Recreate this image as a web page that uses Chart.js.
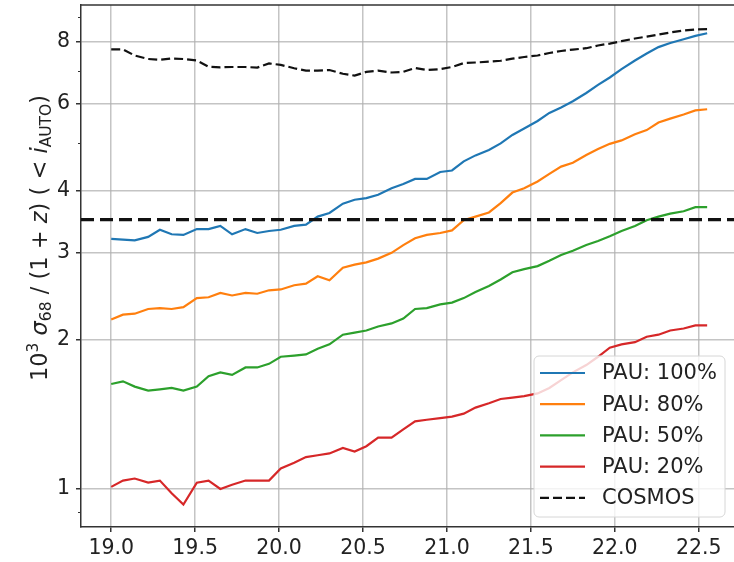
<!DOCTYPE html>
<html lang="en">
<head>
  <meta charset="UTF-8" />
  <title>Photo-z scatter vs magnitude</title>
  <script src="https://cdn.jsdelivr.net/npm/chart.js"></script>
  <style>
    body { margin: 0; background: #fff; }
    #wrap { width: 734px; height: 562px; }
  </style>
</head>
<body>
  <div id="wrap"><canvas id="sigmaChart" width="734" height="562"></canvas></div>

  <script>
    // magnitude bins (i_AUTO limit)
    const magBins = [19.00, 19.07, 19.14, 19.22, 19.29, 19.36, 19.43, 19.51, 19.58, 19.65,
                     19.72, 19.80, 19.87, 19.94, 20.01, 20.09, 20.16, 20.23, 20.30, 20.38,
                     20.45, 20.52, 20.59, 20.67, 20.74, 20.81, 20.88, 20.96, 21.03, 21.10,
                     21.17, 21.25, 21.32, 21.39, 21.46, 21.54, 21.61, 21.68, 21.75, 21.83,
                     21.90, 21.97, 22.04, 22.12, 22.19, 22.26, 22.33, 22.41, 22.48, 22.55];

    const pau100 = [3.20, 3.19, 3.18, 3.23, 3.34, 3.27, 3.26, 3.35, 3.35, 3.40,
                    3.27, 3.35, 3.29, 3.32, 3.34, 3.40, 3.42, 3.55, 3.61, 3.77,
                    3.84, 3.87, 3.93, 4.05, 4.13, 4.23, 4.23, 4.37, 4.40, 4.59,
                    4.72, 4.84, 4.99, 5.19, 5.35, 5.54, 5.75, 5.90, 6.07, 6.31,
                    6.55, 6.78, 7.05, 7.34, 7.58, 7.81, 7.96, 8.10, 8.23, 8.33];

    const pau80 = [2.20, 2.25, 2.26, 2.31, 2.32, 2.31, 2.33, 2.43, 2.44, 2.49,
                   2.46, 2.49, 2.48, 2.52, 2.53, 2.58, 2.60, 2.69, 2.64, 2.80,
                   2.84, 2.87, 2.92, 3.00, 3.11, 3.21, 3.26, 3.29, 3.33, 3.49,
                   3.55, 3.62, 3.78, 3.97, 4.05, 4.18, 4.33, 4.48, 4.56, 4.73,
                   4.86, 4.98, 5.06, 5.21, 5.31, 5.50, 5.60, 5.71, 5.82, 5.85];

    const pau50 = [1.63, 1.65, 1.61, 1.58, 1.59, 1.60, 1.58, 1.61, 1.69, 1.72,
                   1.70, 1.76, 1.76, 1.79, 1.85, 1.86, 1.87, 1.92, 1.96, 2.05,
                   2.07, 2.09, 2.13, 2.16, 2.21, 2.31, 2.32, 2.36, 2.38, 2.43,
                   2.50, 2.57, 2.65, 2.74, 2.78, 2.82, 2.89, 2.97, 3.03, 3.11,
                   3.17, 3.24, 3.32, 3.40, 3.49, 3.55, 3.60, 3.64, 3.71, 3.71];

    const pau20 = [1.01, 1.04, 1.05, 1.03, 1.04, 0.98, 0.93, 1.03, 1.04, 1.00,
                   1.02, 1.04, 1.04, 1.04, 1.10, 1.13, 1.16, 1.17, 1.18, 1.21,
                   1.19, 1.22, 1.27, 1.27, 1.32, 1.37, 1.38, 1.39, 1.40, 1.42,
                   1.46, 1.49, 1.52, 1.53, 1.54, 1.56, 1.60, 1.66, 1.72, 1.78,
                   1.85, 1.93, 1.96, 1.98, 2.03, 2.05, 2.09, 2.11, 2.14, 2.14];

    const cosmos = [7.73, 7.73, 7.51, 7.39, 7.36, 7.41, 7.39, 7.34, 7.13, 7.11,
                    7.12, 7.12, 7.10, 7.24, 7.19, 7.08, 7.00, 7.00, 7.02, 6.90,
                    6.84, 6.96, 7.00, 6.94, 6.96, 7.09, 7.02, 7.05, 7.12, 7.25,
                    7.27, 7.30, 7.33, 7.40, 7.46, 7.51, 7.60, 7.67, 7.72, 7.77,
                    7.87, 7.94, 8.03, 8.13, 8.20, 8.28, 8.36, 8.44, 8.48, 8.49];

    const requirement = 3.5;

    const xTicks = [19.0, 19.5, 20.0, 20.5, 21.0, 21.5, 22.0, 22.5];
    const yTicks = [1, 2, 3, 4, 6, 8];
    const yMinorTicks = [0.9, 5, 7, 9];
    const xRange = [18.82, 22.71];
    const yRange = [0.838, 9.5];

    const seriesNames = ['PAU: 100%', 'PAU: 80%', 'PAU: 50%', 'PAU: 20%', 'COSMOS'];
    const seriesColors = ['#1f77b4', '#ff7f0e', '#2ca02c', '#d62728', '#111111'];

    const pts = arr => magBins.map((m, i) => ({ x: m, y: arr[i] }));

    Chart.defaults.font.family = "'DejaVu Sans', sans-serif";
    Chart.defaults.font.size = 20.5;
    Chart.defaults.color = '#222';

    // top spine, minor ticks, y label, legend
    const extras = {
      id: 'extras',
      afterDraw(chart) {
        const ctx = chart.ctx;
        const area = chart.chartArea;
        const ys = chart.scales.y;

        ctx.save();
        ctx.strokeStyle = '#333';
        ctx.lineWidth = 1.5;
        ctx.beginPath();
        ctx.moveTo(area.left, area.top);
        ctx.lineTo(area.right, area.top);
        ctx.stroke();

        ctx.lineWidth = 1;
        yMinorTicks.forEach(v => {
          const py = Math.round(ys.getPixelForValue(v)) + 0.5;
          ctx.beginPath();
          ctx.moveTo(area.left - 3, py);
          ctx.lineTo(area.left, py);
          ctx.stroke();
        });

        // y-axis label with sub/superscripts
        const big = 22.5, small = 15.5;
        const parts = [
          { t: '10', f: `${big}px 'DejaVu Sans'`, dy: 0 },
          { t: '3', f: `${small}px 'DejaVu Sans'`, dy: -9 },
          { t: ' ', f: `${big}px 'DejaVu Sans'`, dy: 0 },
          { t: 'σ', f: `italic ${big}px 'DejaVu Sans'`, dy: 0 },
          { t: '68', f: `${small}px 'DejaVu Sans'`, dy: 4 },
          { t: ' / (1 + ', f: `${big}px 'DejaVu Sans'`, dy: 0 },
          { t: 'z', f: `italic ${big}px 'DejaVu Sans'`, dy: 0 },
          { t: ') ( < ', f: `${big}px 'DejaVu Sans'`, dy: 0 },
          { t: 'i', f: `italic ${big}px 'DejaVu Sans'`, dy: 0 },
          { t: 'AUTO', f: `${small}px 'DejaVu Sans'`, dy: 4 },
          { t: ')', f: `${big}px 'DejaVu Sans'`, dy: 0 }
        ];
        let total = 0;
        parts.forEach(p => { ctx.font = p.f; p.w = ctx.measureText(p.t).width; total += p.w; });
        ctx.translate(47, 238);
        ctx.rotate(-Math.PI / 2);
        ctx.fillStyle = '#222';
        ctx.textBaseline = 'alphabetic';
        let cx = -total / 2;
        parts.forEach(p => {
          ctx.font = p.f;
          ctx.fillText(p.t, cx, p.dy);
          cx += p.w;
        });
        ctx.restore();

        // legend box
        ctx.save();
        const bx = 534, by = 356, bw = 191, bh = 161;
        ctx.beginPath();
        ctx.roundRect(bx, by, bw, bh, 5);
        ctx.fillStyle = 'rgba(255,255,255,0.8)';
        ctx.fill();
        ctx.strokeStyle = '#d6d6d6';
        ctx.lineWidth = 1;
        ctx.stroke();
        ctx.font = "21px 'DejaVu Sans'";
        ctx.textBaseline = 'middle';
        seriesNames.forEach((name, i) => {
          const y = 373 + i * 31.2;
          ctx.strokeStyle = seriesColors[i];
          ctx.lineWidth = 2.2;
          ctx.setLineDash(i === 4 ? [9, 4] : []);
          ctx.beginPath();
          ctx.moveTo(540, y);
          ctx.lineTo(585, y);
          ctx.stroke();
          ctx.fillStyle = '#222';
          ctx.fillText(name, 602, y + 1);
        });
        ctx.restore();
      }
    };

    const lineSet = (label, data, color, extra) => Object.assign({
      label: label,
      data: data,
      borderColor: color,
      backgroundColor: color,
      borderWidth: 2.2,
      pointRadius: 0,
      tension: 0,
      fill: false
    }, extra || {});

    new Chart(document.getElementById('sigmaChart'), {
      type: 'line',
      data: {
        datasets: [
          lineSet('requirement', [{ x: xRange[0], y: requirement }, { x: xRange[1], y: requirement }],
                  '#111', { borderWidth: 3.2, borderDash: [13, 6] }),
          lineSet(seriesNames[0], pts(pau100), seriesColors[0]),
          lineSet(seriesNames[1], pts(pau80), seriesColors[1]),
          lineSet(seriesNames[2], pts(pau50), seriesColors[2]),
          lineSet(seriesNames[3], pts(pau20), seriesColors[3]),
          lineSet(seriesNames[4], pts(cosmos), seriesColors[4], { borderDash: [9, 4] })
        ]
      },
      options: {
        responsive: false,
        animation: false,
        layout: { padding: { top: 5, right: 0, left: 0, bottom: 0 } },
        plugins: {
          legend: { display: false },
          tooltip: { enabled: false }
        },
        scales: {
          x: {
            type: 'linear',
            min: xRange[0],
            max: xRange[1],
            afterBuildTicks: s => { s.ticks = xTicks.map(v => ({ value: v })); },
            afterFit: s => { s.height = 35; s.paddingLeft = 0; s.paddingRight = 0; },
            ticks: {
              padding: 4,
              maxRotation: 0,
              color: '#222',
              callback: v => v.toFixed(1)
            },
            grid: { color: 'rgba(176,176,176,0.75)', lineWidth: 1.5, tickColor: '#333', tickLength: 5 },
            border: { color: '#333', width: 1.5 }
          },
          y: {
            type: 'logarithmic',
            min: yRange[0],
            max: yRange[1],
            afterBuildTicks: s => { s.ticks = yTicks.map(v => ({ value: v })); },
            afterFit: s => { s.width = 81; s.paddingTop = 0; s.paddingBottom = 0; },
            ticks: {
              padding: 6,
              color: '#222',
              callback: v => String(v)
            },
            grid: { color: 'rgba(176,176,176,0.75)', lineWidth: 1.5, tickColor: '#333', tickLength: 5 },
            border: { color: '#333', width: 1.5 }
          }
        }
      },
      plugins: [extras]
    });
  </script>
</body>
</html>
